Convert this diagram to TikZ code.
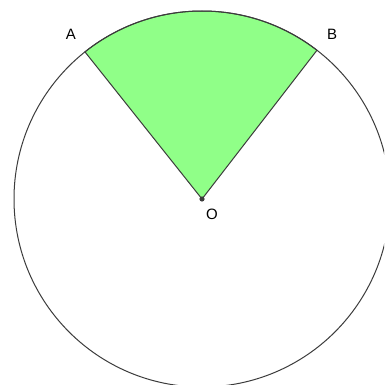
\documentclass[tikz,border=0pt]{standalone}
\usepackage{fontspec}
\setmainfont{Liberation Sans}
\definecolor{sector}{RGB}{144,255,136}
\definecolor{edge}{RGB}{60,60,60}
\begin{document}
\begin{tikzpicture}[x=1pt,y=-1pt,
  lbl/.style={font=\fontsize{15}{17}\selectfont, text=black, inner sep=0pt}]
\useasboundingbox (0,0) rectangle (384,385);
\clip (0,0) rectangle (384,385);
\fill[white] (0,0) rectangle (384,385);
\coordinate (O) at (202,199);
\path (O) ++(-128.5:188) coordinate (A);
\path (O) ++(-52.3:188) coordinate (B);
\filldraw[fill=sector, draw=edge, line width=1pt] (O) -- (A) arc[start angle=-128.5, end angle=-52.3, radius=188] -- cycle;
\draw[edge, line width=1pt] (O) circle[radius=188];
\fill[edge] (O) circle[radius=2.6];
\node[lbl] (lA) at (71,34) {A};
\node[lbl] (lB) at (332,34) {B};
\node[lbl] (lO) at (212,214) {O};
\end{tikzpicture}
\end{document}
